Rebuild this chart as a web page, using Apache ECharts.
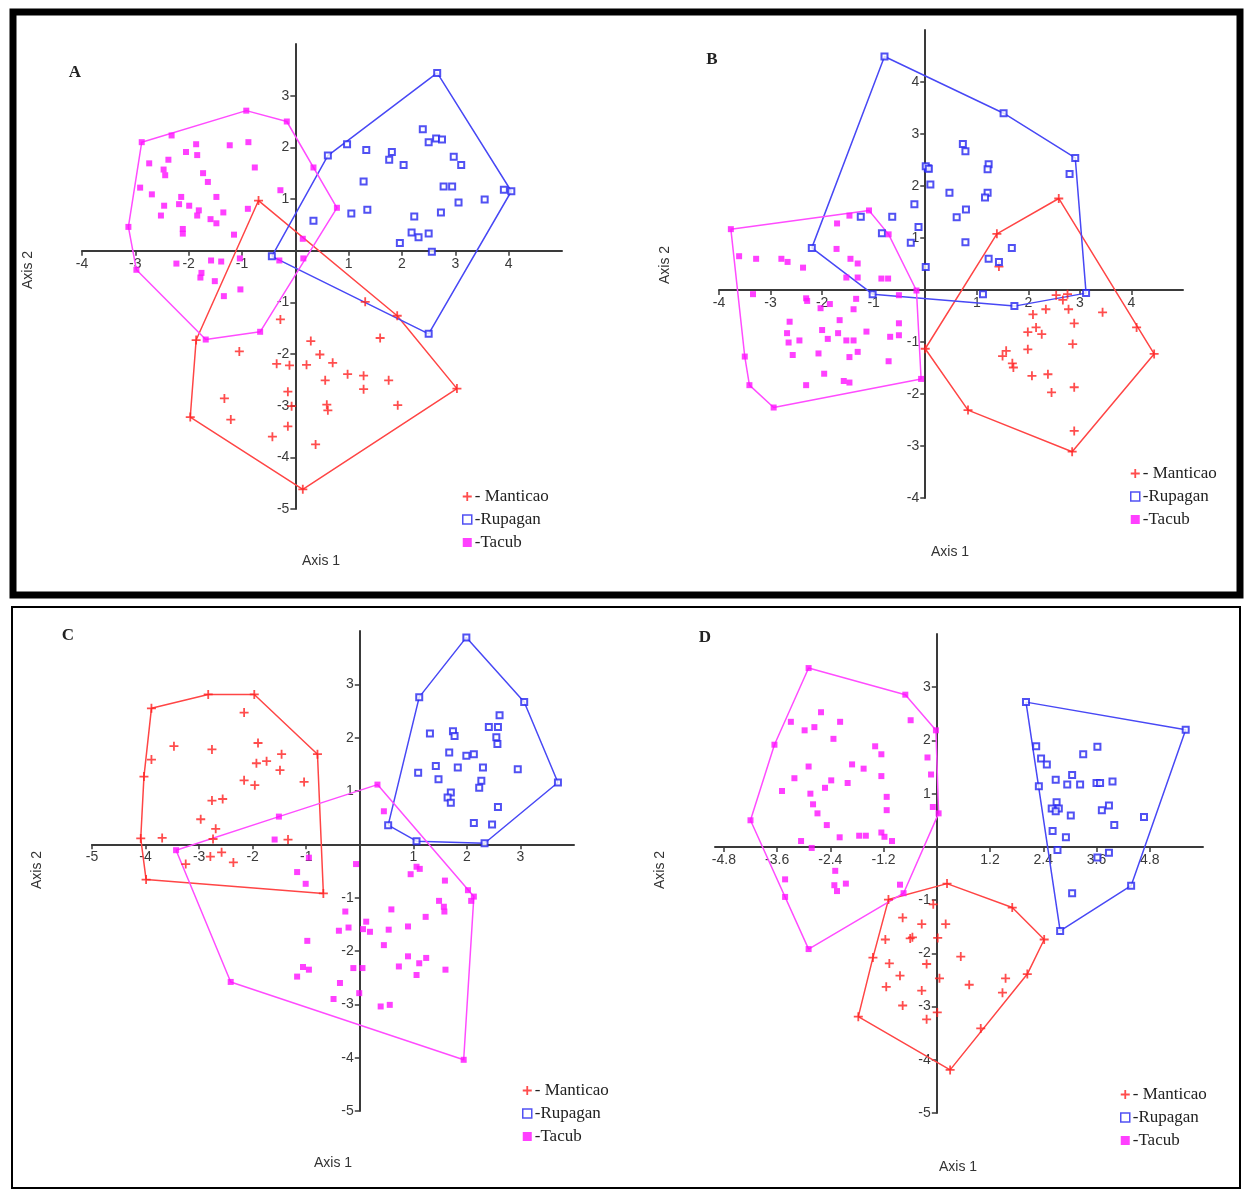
<!DOCTYPE html>
<html>
<head>
<meta charset="utf-8">
<script src="https://cdn.jsdelivr.net/npm/echarts@6/dist/echarts.min.js"></script>
<style>html,body{margin:0;padding:0;background:#fff}#c{width:1246px;height:1190px}</style>
</head>
<body>
<div id="c"></div>
<script>
// ---------------- DATA ----------------
const seriesNames = ['- Manticao', '-Rupagan', '-Tacub'];
const panelLetters = ['A', 'B', 'C', 'D'];

// Panel A
const aMant = [[-0.69,0.97],[1.91,-1.26],[1.31,-0.99],[3.03,-2.67],[0.14,-4.62],[-1.97,-3.22],[-1.86,-1.73],[-0.28,-1.33],[0.29,-1.75],[1.59,-1.69],[-1.05,-1.95],[0.46,-2.01],[-0.35,-2.19],[-0.11,-2.22],[0.21,-2.21],[0.70,-2.17],[0.98,-2.39],[1.28,-2.42],[1.75,-2.51],[0.56,-2.51],[1.28,-2.68],[-0.14,-2.73],[-1.33,-2.86],[-0.07,-3.01],[0.59,-2.98],[0.61,-3.09],[1.92,-2.99],[-1.21,-3.27],[-0.14,-3.40],[-0.43,-3.60],[0.38,-3.75]];
const aRup = [[2.66,3.44],[4.05,1.15],[3.91,1.18],[0.61,1.84],[-0.44,-0.11],[2.50,-1.61],[0.97,2.06],[1.33,1.95],[1.81,1.91],[1.76,1.76],[2.03,1.66],[2.39,2.35],[2.50,2.10],[2.64,2.17],[2.75,2.15],[2.97,1.82],[3.11,1.66],[1.28,1.34],[2.78,1.24],[2.94,1.24],[3.06,0.93],[3.55,0.99],[0.34,0.58],[1.05,0.72],[1.35,0.79],[2.23,0.66],[2.73,0.74],[2.18,0.35],[2.31,0.26],[2.50,0.33],[1.96,0.15],[2.56,-0.02]];
const aTac = [[-0.92,2.71],[-0.16,2.50],[-2.88,2.10],[-2.32,2.23],[-1.86,2.06],[-2.05,1.91],[-1.84,1.85],[-1.23,2.04],[-0.88,2.10],[-0.76,1.61],[-2.74,1.69],[-2.38,1.76],[-2.47,1.57],[-2.44,1.46],[-1.73,1.50],[-1.64,1.33],[-2.91,1.22],[-2.69,1.09],[-1.48,1.04],[-2.14,1.04],[-2.18,0.90],[-1.99,0.87],[-2.46,0.87],[-2.52,0.68],[-1.81,0.78],[-1.84,0.68],[-1.59,0.61],[-1.48,0.53],[-1.35,0.74],[-0.89,0.81],[-2.11,0.42],[-2.11,0.33],[-1.15,0.31],[-3.13,0.46],[-0.28,1.17],[0.14,0.23],[0.34,1.61],[0.78,0.83],[0.15,-0.15],[-0.30,-0.19],[-2.23,-0.25],[-1.58,-0.19],[-1.39,-0.21],[-1.04,-0.15],[-1.76,-0.43],[-1.78,-0.52],[-1.51,-0.59],[-1.03,-0.75],[-1.34,-0.88],[-2.98,-0.37],[-1.68,-1.72],[-0.66,-1.57]];

// Panel B
const bMant = [[1.39,1.08],[2.59,1.76],[1.43,0.45],[4.44,-1.23],[4.10,-0.72],[2.85,-3.11],[0.83,-2.31],[0.00,-1.13],[3.44,-0.43],[2.54,-0.10],[2.67,-0.19],[2.76,-0.08],[2.78,-0.37],[2.09,-0.47],[2.34,-0.37],[2.89,-0.64],[1.99,-0.81],[2.15,-0.72],[2.26,-0.85],[2.86,-1.04],[1.99,-1.14],[1.57,-1.17],[1.50,-1.27],[1.69,-1.41],[1.71,-1.49],[2.07,-1.65],[2.38,-1.62],[2.45,-1.97],[2.89,-1.87],[2.89,-2.71]];
const bRup = [[-0.79,4.49],[-2.20,0.81],[-1.02,-0.08],[-1.25,1.41],[-0.64,1.41],[-0.84,1.09],[-0.21,1.65],[-0.13,1.21],[-0.28,0.91],[0.01,0.44],[0.05,2.34],[0.10,2.03],[1.52,3.40],[2.91,2.54],[2.80,2.23],[3.12,-0.06],[0.01,2.38],[0.07,2.33],[0.73,2.81],[0.78,2.67],[1.23,2.42],[1.21,2.32],[0.47,1.87],[1.21,1.87],[1.16,1.78],[0.79,1.55],[0.61,1.40],[0.78,0.92],[1.68,0.81],[1.23,0.60],[1.43,0.54],[1.12,-0.08],[1.73,-0.31]];
const bTac = [[-3.77,1.17],[-1.09,1.53],[-0.71,1.07],[-0.17,-0.01],[-1.47,1.43],[-1.71,1.28],[-1.72,0.79],[-1.45,0.60],[-1.31,0.51],[-2.37,0.43],[-2.79,0.60],[-2.67,0.54],[-3.28,0.60],[-3.61,0.65],[-1.53,0.24],[-1.31,0.24],[-0.85,0.22],[-0.72,0.22],[-3.34,-0.08],[-2.31,-0.16],[-2.29,-0.21],[-2.03,-0.35],[-1.85,-0.27],[-1.34,-0.17],[-1.39,-0.37],[-0.51,-0.10],[-2.63,-0.61],[-1.66,-0.58],[-0.51,-0.64],[-2.68,-0.83],[-2.65,-1.01],[-2.44,-0.97],[-2.00,-0.77],[-1.89,-0.94],[-1.69,-0.83],[-1.53,-0.97],[-1.39,-0.97],[-1.14,-0.80],[-0.68,-0.90],[-0.51,-0.87],[-2.57,-1.25],[-2.07,-1.22],[-1.47,-1.29],[-1.31,-1.19],[-0.71,-1.37],[-1.96,-1.61],[-2.31,-1.83],[-1.58,-1.75],[-1.47,-1.78],[-0.08,-1.71],[-3.50,-1.28],[-3.41,-1.83],[-2.94,-2.26]];

// Panel C
const cMant = [[-3.89,2.55],[-2.83,2.81],[-1.97,2.81],[-0.79,1.69],[-0.68,-0.92],[-3.99,-0.66],[-4.09,0.11],[-4.03,1.27],[-3.89,1.59],[-3.47,1.84],[-2.76,1.78],[-2.16,2.47],[-1.90,1.90],[-1.93,1.52],[-1.74,1.56],[-1.46,1.69],[-1.49,1.39],[-2.16,1.20],[-1.96,1.11],[-1.04,1.17],[-2.76,0.82],[-2.56,0.85],[-2.97,0.47],[-2.69,0.29],[-2.74,0.10],[-3.69,0.12],[-1.34,0.09],[-2.79,-0.23],[-2.58,-0.15],[-2.36,-0.34],[-3.25,-0.37]];
const cRup = [[1.99,3.88],[1.11,2.76],[3.07,2.67],[3.70,1.16],[2.33,0.02],[1.06,0.06],[0.53,0.36],[2.61,2.42],[2.41,2.20],[2.58,2.20],[2.55,2.01],[2.57,1.88],[1.31,2.08],[1.74,2.12],[1.77,2.03],[1.67,1.72],[1.99,1.66],[2.13,1.69],[1.42,1.47],[1.83,1.44],[2.30,1.44],[2.95,1.41],[1.09,1.34],[1.47,1.22],[2.27,1.19],[2.23,1.06],[1.70,0.97],[1.64,0.88],[1.70,0.78],[2.58,0.70],[2.13,0.40],[2.47,0.37]];
const cTac = [[0.33,1.12],[-3.43,-0.11],[-2.41,-2.58],[1.94,-4.04],[2.13,-0.98],[2.02,-0.86],[-1.51,0.52],[-1.59,0.09],[-0.95,-0.25],[-1.17,-0.52],[-1.01,-0.74],[-0.07,-0.37],[0.45,0.62],[1.06,-0.42],[1.12,-0.46],[0.95,-0.56],[1.59,-0.68],[1.48,-1.06],[1.57,-1.17],[1.58,-1.26],[2.08,-1.06],[1.23,-1.36],[0.59,-1.22],[-0.27,-1.26],[0.12,-1.45],[0.06,-1.59],[0.19,-1.64],[-0.21,-1.56],[-0.39,-1.62],[0.54,-1.60],[0.90,-1.54],[-0.98,-1.81],[0.45,-1.89],[0.90,-2.10],[1.24,-2.13],[1.11,-2.23],[0.73,-2.29],[1.06,-2.45],[1.60,-2.35],[-0.12,-2.32],[0.05,-2.32],[-1.06,-2.30],[-0.95,-2.35],[-1.17,-2.48],[-0.37,-2.60],[-0.01,-2.79],[-0.49,-2.90],[0.39,-3.04],[0.56,-3.01]];

// Panel D
const dMant = [[0.23,-0.69],[1.70,-1.14],[2.42,-1.74],[2.04,-2.39],[0.99,-3.41],[0.30,-4.19],[-1.77,-3.19],[-1.44,-2.08],[-1.09,-0.99],[-0.08,-1.08],[-0.77,-1.33],[-0.34,-1.45],[0.20,-1.45],[-1.16,-1.74],[-0.60,-1.72],[-0.55,-1.70],[0.02,-1.71],[0.54,-2.06],[-1.07,-2.19],[-0.23,-2.20],[-0.83,-2.42],[0.06,-2.47],[1.55,-2.47],[-1.14,-2.63],[0.73,-2.59],[-0.34,-2.70],[1.48,-2.74],[-0.77,-2.98],[0.01,-3.11],[-0.23,-3.24]];
const dRup = [[2.01,2.72],[5.61,2.20],[4.38,-0.73],[2.78,-1.58],[2.24,1.89],[2.35,1.66],[2.48,1.55],[2.30,1.14],[2.68,1.26],[3.05,1.35],[2.94,1.17],[3.23,1.17],[3.30,1.74],[3.62,1.88],[3.60,1.20],[3.68,1.20],[3.96,1.23],[2.70,0.84],[2.59,0.72],[2.75,0.72],[2.68,0.67],[3.02,0.59],[3.72,0.69],[3.88,0.78],[4.00,0.41],[4.67,0.56],[2.61,0.30],[2.91,0.18],[2.72,-0.06],[3.62,-0.20],[3.88,-0.11],[3.05,-0.87]];
const dTac = [[-2.89,3.36],[-0.71,2.86],[-0.02,2.19],[0.04,0.63],[-4.20,0.50],[-3.66,1.92],[-3.29,2.35],[-2.89,-1.92],[-3.42,-0.94],[-0.75,-0.87],[-2.61,2.53],[-2.18,2.35],[-2.98,2.19],[-2.76,2.25],[-2.33,2.03],[-1.39,1.89],[-1.25,1.74],[-0.59,2.38],[-0.21,1.68],[-0.13,1.36],[-0.09,0.75],[-2.89,1.51],[-1.91,1.55],[-1.65,1.47],[-1.25,1.33],[-3.21,1.29],[-2.38,1.25],[-2.01,1.20],[-2.52,1.11],[-3.49,1.05],[-2.85,1.00],[-1.13,0.94],[-2.79,0.80],[-2.69,0.63],[-1.13,0.69],[-2.48,0.41],[-1.25,0.27],[-1.18,0.19],[-1.01,0.11],[-2.19,0.18],[-1.75,0.21],[-1.60,0.21],[-3.06,0.11],[-2.82,-0.02],[-3.42,-0.61],[-2.29,-0.45],[-2.31,-0.72],[-2.25,-0.83],[-2.05,-0.69],[-0.83,-0.71]];

// Axis ranges and tick labels
const rangeAX = [-4, 5], rangeAY = [-5, 4];
const rangeBX = [-4, 5], rangeBY = [-4, 5];
const rangeCX = [-5, 4], rangeCY = [-5, 4];
const rangeDX = [-5, 6], rangeDY = [-5, 4];
const ticksAX = [-4, -3, -2, -1, 1, 2, 3, 4];
const ticksAY = [-5, -4, -3, -2, -1, 1, 2, 3];
const ticksBX = [-4, -3, -2, -1, 1, 2, 3, 4];
const ticksBY = [-4, -3, -2, -1, 1, 2, 3, 4];
const ticksCX = [-5, -4, -3, -2, -1, 1, 2, 3];
const ticksCY = [-5, -4, -3, -2, -1, 1, 2, 3];
const ticksDX = [-4.8, -3.6, -2.4, -1.2, 1.2, 2.4, 3.6, 4.8];
const ticksDY = [-5, -4, -3, -2, -1, 1, 2, 3];

// ---------------- LAYOUT / STYLE ----------------
const panels = [
  {groups: [aMant, aRup, aTac], xr: rangeAX, yr: rangeAY, xt: ticksAX, yt: ticksAY,
   grid: {left: 82, top: 44, width: 480, height: 465}, leg: {left: 462, top: 488},
   letter: [75, 73], ax1: [321, 561], ax2: [28, 270]},
  {groups: [bMant, bRup, bTac], xr: rangeBX, yr: rangeBY, xt: ticksBX, yt: ticksBY,
   grid: {left: 719, top: 30, width: 464, height: 468}, leg: {left: 1130, top: 465},
   letter: [712, 60], ax1: [950, 552], ax2: [665, 265]},
  {groups: [cMant, cRup, cTac], xr: rangeCX, yr: rangeCY, xt: ticksCX, yt: ticksCY,
   grid: {left: 92, top: 631, width: 482, height: 480}, leg: {left: 522, top: 1082},
   letter: [68, 636], ax1: [333, 1163], ax2: [37, 870]},
  {groups: [dMant, dRup, dTac], xr: rangeDX, yr: rangeDY, xt: ticksDX, yt: ticksDY,
   grid: {left: 715, top: 634, width: 488, height: 479}, leg: {left: 1120, top: 1086},
   letter: [705, 638], ax1: [958, 1167], ax2: [660, 870]}
];

const plusPath = 'path://M4,0 L6,0 L6,4 L10,4 L10,6 L6,6 L6,10 L4,10 L4,6 L0,6 L0,4 L4,4 Z';
const markColors = ['#ff2020', '#2626f0', '#ff10ff'];
const hullColors = ['#ff4545', '#4848f5', '#ff4cff'];
const axisColor = '#3a3a3a';
const sans = 'Liberation Sans';
const serif = 'Liberation Serif';

function convexHull(pts) {
  const p = pts.slice().sort((a, b) => a[0] - b[0] || a[1] - b[1]);
  const cross = (o, a, b) => (a[0] - o[0]) * (b[1] - o[1]) - (a[1] - o[1]) * (b[0] - o[0]);
  const lower = [];
  for (const q of p) {
    while (lower.length >= 2 && cross(lower[lower.length - 2], lower[lower.length - 1], q) <= 0) lower.pop();
    lower.push(q);
  }
  const upper = [];
  for (let i = p.length - 1; i >= 0; i--) {
    const q = p[i];
    while (upper.length >= 2 && cross(upper[upper.length - 2], upper[upper.length - 1], q) <= 0) upper.pop();
    upper.push(q);
  }
  upper.pop(); lower.pop();
  const h = lower.concat(upper);
  h.push(h[0]);
  return h;
}

const grids = [], xAxes = [], yAxes = [], series = [], legends = [], graphics = [];

panels.forEach((pn, i) => {
  grids.push(Object.assign({containLabel: false}, pn.grid));
  const axisCommon = {
    type: 'value',
    gridIndex: i,
    axisLine: {onZero: false, lineStyle: {color: axisColor, width: 2}},
    axisTick: {show: true, length: 5, lineStyle: {color: axisColor, width: 1.5}},
    splitLine: {show: false},
    axisLabel: {color: '#3a3a3a', fontFamily: sans, fontSize: 14, margin: 6}
  };
  // place each axis on the zero line of the other axis
  const xOff = -pn.grid.height * (0 - pn.yr[0]) / (pn.yr[1] - pn.yr[0]);
  const yOff = -pn.grid.width * (0 - pn.xr[0]) / (pn.xr[1] - pn.xr[0]);
  xAxes.push(Object.assign({}, axisCommon, {
    position: 'bottom', offset: xOff,
    min: pn.xr[0], max: pn.xr[1],
    axisTick: Object.assign({}, axisCommon.axisTick, {customValues: pn.xt}),
    axisLabel: Object.assign({}, axisCommon.axisLabel, {customValues: pn.xt})
  }));
  yAxes.push(Object.assign({}, axisCommon, {
    position: 'left', offset: yOff,
    min: pn.yr[0], max: pn.yr[1],
    axisTick: Object.assign({}, axisCommon.axisTick, {customValues: pn.yt}),
    axisLabel: Object.assign({}, axisCommon.axisLabel, {customValues: pn.yt})
  }));

  pn.groups.forEach((g, k) => {
    series.push({
      type: 'line', name: 'hull' + i + k, xAxisIndex: i, yAxisIndex: i,
      data: convexHull(g), showSymbol: false, symbol: 'none', silent: true,
      lineStyle: {color: hullColors[k], width: 1.5}, z: 2, animation: false
    });
  });
  pn.groups.forEach((g, k) => {
    const s = {
      type: 'scatter', name: seriesNames[k], xAxisIndex: i, yAxisIndex: i,
      data: g, z: 3, animation: false
    };
    if (k === 0) { s.symbol = plusPath; s.symbolSize = 9; s.itemStyle = {color: markColors[0]}; }
    if (k === 1) { s.symbol = 'emptyRect'; s.symbolSize = 6; s.itemStyle = {color: markColors[1], borderWidth: 1.3}; }
    if (k === 2) { s.symbol = 'rect'; s.symbolSize = 6; s.itemStyle = {color: markColors[2]}; }
    series.push(s);
  });

  legends.push({
    left: pn.leg.left, top: pn.leg.top, orient: 'vertical', padding: 0,
    itemWidth: 9, itemHeight: 9, itemGap: 6, selectedMode: false,
    textStyle: {fontFamily: serif, fontSize: 17, color: '#222', lineHeight: 17, padding: [0, 0, 0, -2]},
    data: [
      {name: seriesNames[0], icon: plusPath, itemStyle: {color: markColors[0]}},
      {name: seriesNames[1], icon: 'rect', itemStyle: {color: '#fff', borderColor: markColors[1], borderWidth: 1.5}},
      {name: seriesNames[2], icon: 'rect', itemStyle: {color: markColors[2]}}
    ]
  });

  graphics.push({type: 'text', x: pn.letter[0], y: pn.letter[1],
    style: {text: panelLetters[i], font: 'bold 17px "Liberation Serif"', fill: '#222', align: 'center', verticalAlign: 'middle'}});
  graphics.push({type: 'text', x: pn.ax1[0], y: pn.ax1[1],
    style: {text: 'Axis 1', font: '14px "Liberation Sans"', fill: '#333', align: 'center', verticalAlign: 'middle'}});
  graphics.push({type: 'text', x: pn.ax2[0], y: pn.ax2[1], rotation: Math.PI / 2,
    style: {text: 'Axis 2', font: '14px "Liberation Sans"', fill: '#333', align: 'center', verticalAlign: 'middle'}});
});

// frames
graphics.push({type: 'rect', shape: {x: 13, y: 12, width: 1227, height: 583}, style: {fill: 'none', stroke: '#000', lineWidth: 7}, z: 10});
graphics.push({type: 'rect', shape: {x: 12, y: 607, width: 1228, height: 581}, style: {fill: 'none', stroke: '#000', lineWidth: 2}, z: 10});

const chart = echarts.init(document.getElementById('c'), null, {renderer: 'canvas'});
chart.setOption({
  backgroundColor: '#fff',
  animation: false,
  grid: grids,
  xAxis: xAxes,
  yAxis: yAxes,
  legend: legends,
  series: series,
  graphic: graphics
});
</script>
</body>
</html>
